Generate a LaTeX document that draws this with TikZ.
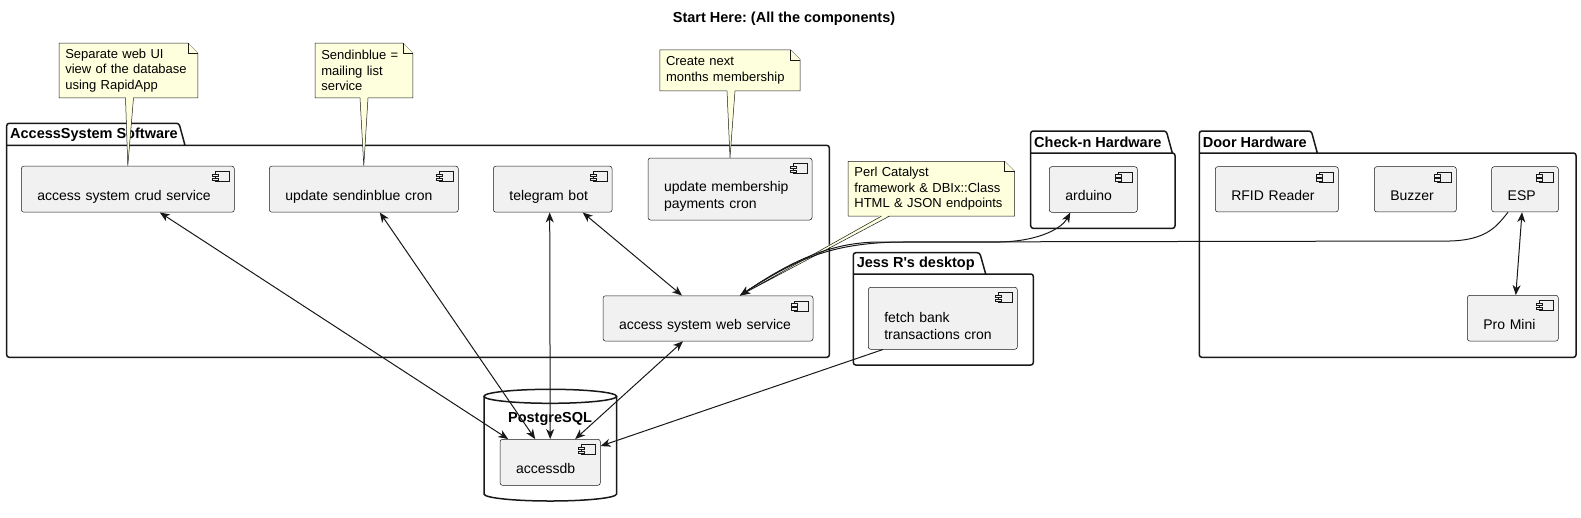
\documentclass[tikz,border=0pt]{standalone}
\usepackage{fontspec}
\setmainfont{Liberation Sans}
\usepackage{tikz}
\usetikzlibrary{arrows.meta}
\usetikzlibrary{backgrounds}
\frenchspacing
\definecolor{compfill}{HTML}{F1F1F1}
\definecolor{notefill}{HTML}{FEFFDD}
\definecolor{umlline}{HTML}{181818}
\tikzstyle{pkg} = [draw=umlline, line width=1.5pt, rounded corners=2.5pt]
\tikzstyle{dbline} = [draw=umlline, line width=1.5pt]
\tikzstyle{pkgtitle} = [font=\fontsize{14.5}{17}\selectfont\bfseries, inner sep=0pt]
\tikzstyle{icon} = [draw=umlline, line width=0.5pt, fill=compfill]
\tikzstyle{notebox} = [draw=umlline, line width=0.5pt, fill=notefill]
\tikzstyle{link} = [draw=umlline, line width=1pt]
\tikzset{>={Stealth[length=10pt,width=8pt,inset=3pt]}}
\tikzset{comp/.style 2 args={draw=umlline, line width=0.5pt, fill=compfill,
    rounded corners=2.5pt, minimum width=#1, minimum height=#2, text width=#1-32,
    inner sep=0pt, align=left, font=\fontsize{14}{16.6}\selectfont,
    execute at begin node={\rule[-3pt]{0pt}{28pt}}}}
\tikzset{note/.style 2 args={minimum width=#1, minimum height=#2, text width=#1-12,
    inner sep=0pt, align=left, font=\fontsize{13}{15.3}\selectfont}}
% package: name, left, top, tab right, tab bottom, right, bottom, title
\newcommand{\pkgbox}[8]{%
  \draw[pkg] (#2,#5) -- (#6,#5) -- (#6,#7) -- (#2,#7) -- (#2,#3) -- ({#4-6},#3) -- (#4,#5);
  \node[pkgtitle,anchor=west] (#1) at ({#2+3.3},{(#3+#5)/2}) {#8};
}

\begin{document}
\begin{tikzpicture}[x=1pt,y=-1pt]
\useasboundingbox (0,0) rectangle (1581,517);
    %title
    \node[pkgtitle] (title) at (784,19) {Start Here: (All the components)};
    %packages
    \pkgbox{sw}{6.7}{123.3}{185}{145.3}{829.3}{357.3}{AccessSystem Software}
    \pkgbox{checkin}{1030.7}{131}{1172.3}{153}{1175}{228.3}{Check-n Hardware}
    \pkgbox{jess}{853.3}{252.7}{985.7}{274}{1033.3}{365}{Jess R\textquotesingle s desktop}
    \pkgbox{door}{1199.3}{131}{1317.3}{153}{1576}{357.3}{Door Hardware}
    %database
    \draw[dbline,fill=white] (484,396.3) -- (484,494)
        arc[start angle=180,end angle=0,x radius=66.3,y radius=7] -- (616.6,396.3);
    \draw[dbline] (550.3,396.3) ellipse[x radius=66.3,y radius=7];
    \node[pkgtitle] (pg) at (550,419.3) {PostgreSQL};
    %components
    \node[comp={213}{46}] (crud) at (127.8,189.2) {access system crud service};
    \node[comp={189}{46}] (sendin) at (363.8,189.2) {update sendinblue cron};
    \node[comp={118.7}{46}] (telegram) at (552.7,189.2) {telegram bot};
    \node[comp={164}{62}] (member) at (730,189) {update membership\\payments cron};
    \node[comp={210}{45.3}] (websvc) at (708,318.4) {access system web service};
    \node[comp={88}{45.6}] (arduino) at (1093.3,189.5) {arduino};
    \node[comp={149}{62}] (fetch) at (942.8,318.3) {fetch bank\\transactions cron};
    \node[comp={123}{45.3}] (rfid) at (1276.8,189.3) {RFID Reader};
    \node[comp={82}{45.3}] (buzzer) at (1415.3,189.3) {Buzzer};
    \node[comp={66.7}{45.3}] (esp) at (1525,189.3) {ESP};
    \node[comp={91}{45.7}] (promini) at (1512.8,318.2) {Pro Mini};
    \node[comp={100.3}{46}] (accessdb) at (550.2,462.3) {accessdb};
    \foreach \n in {crud,sendin,telegram,member,websvc,arduino,fetch,rfid,buzzer,esp,promini,accessdb} {
        \draw[icon] ([xshift=-19pt,yshift=-5.5pt]\n.north east) rectangle ([xshift=-5pt,yshift=-15.5pt]\n.north east);
        \draw[icon] ([xshift=-22pt,yshift=-8pt]\n.north east) rectangle ([xshift=-16pt,yshift=-10.5pt]\n.north east);
        \draw[icon] ([xshift=-22pt,yshift=-12pt]\n.north east) rectangle ([xshift=-16pt,yshift=-14.5pt]\n.north east);
    }
    \coordinate (wsin) at ([xshift=32pt]websvc.north);
    %notes
    \node[note={138.4}{54.4}] (n1) at (128.5,70.5) {Separate web UI\\view of the database\\using RapidApp};
    \node[note={97.4}{54.4}] (n2) at (364,70.5) {Sendinblue =\\mailing list\\service};
    \node[note={140}{40.7}] (n3) at (730,70.3) {Create next\\months membership};
    \node[note={166}{54.3}] (n4) at (931.4,188.8) {Perl Catalyst\\framework \& DBIx::Class\\HTML \& JSON endpoints};
    \begin{scope}[on background layer]
    \foreach \n in {n1,n2,n3,n4} {
        \filldraw[notebox] (\n.south west) -- (\n.north west) -- ([xshift=-10pt]\n.north east)
            -- ([yshift=-10pt]\n.north east) -- (\n.south east) -- cycle;
        \draw[notebox] ([xshift=-10pt]\n.north east) -- ([xshift=-10pt,yshift=-10pt]\n.north east)
            -- ([yshift=-10pt]\n.north east);
    }
    \end{scope}
    \foreach \n/\t/\dx in {n1/crud.north/1, n2/sendin.north/0, n3/member.north/1, n4/wsin/-46} {
        \fill[notefill] ([xshift={(\dx-4)*1pt},yshift=1pt]\n.south) -- (\t)
            -- ([xshift={(\dx+4)*1pt},yshift=1pt]\n.south) -- cycle;
        \draw[umlline,line width=0.5pt] ([xshift={(\dx-4)*1pt}]\n.south) -- (\t)
            -- ([xshift={(\dx+4)*1pt}]\n.south);
    }
    %links
    \draw[link,<->] ([xshift=32pt]crud.south) -- ([xshift=-42pt]accessdb.north);
    \draw[link,<->] ([xshift=16pt]sendin.south) -- ([xshift=-15pt]accessdb.north);
    \draw[link,<->] ([xshift=-3pt]telegram.south) -- (accessdb.north);
    \draw[link,<->] ([xshift=30pt]telegram.south) -- ([xshift=-26pt]websvc.north);
    \draw[link,<->] ([xshift=-25pt]websvc.south) -- ([xshift=25pt]accessdb.north);
    \draw[link,->] ([xshift=-60pt]fetch.south) -- ([yshift=-7pt]accessdb.north east);
    \draw[link,<->] (wsin) .. controls (790,262) and (830,242) .. (880,242) -- (1000,242)
        .. controls (1040,241) and (1062,228) .. ([xshift=-23pt]arduino.south);
    \draw[link,->] ([xshift=-17pt]esp.south) .. controls (1497,226) and (1487,240) .. (1450,241)
        -- (900,242) .. controls (830,243) and (795,260) .. (wsin);
    \draw[link,<->] ([xshift=-3pt]esp.south) -- ([xshift=3pt]promini.north);
\end{tikzpicture}
\end{document}
